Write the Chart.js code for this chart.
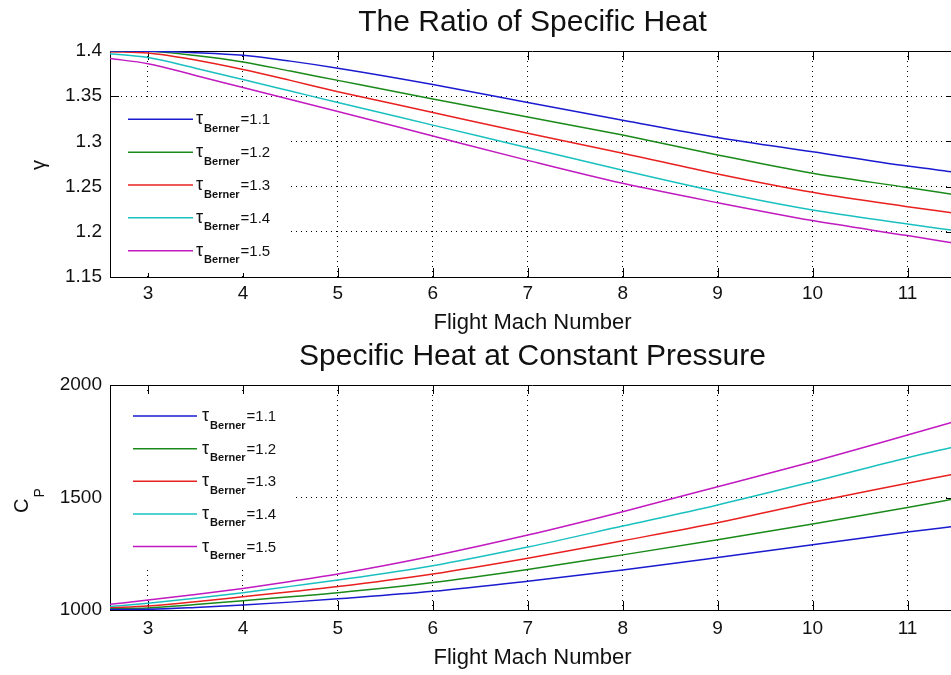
<!DOCTYPE html>
<html><head><meta charset="utf-8">
<script src="https://cdn.jsdelivr.net/npm/chart.js@4.4.1/dist/chart.umd.min.js"></script>
<style>
html,body{margin:0;padding:0;background:#fff;overflow:hidden;width:951px;height:675px;position:relative;}
#c1{position:absolute;left:0;top:0;}
#c2{position:absolute;left:0;top:337px;}
</style></head><body>
<canvas id="c1" width="960" height="337"></canvas>
<canvas id="c2" width="960" height="338"></canvas>
<script>
// ---- data ----
const mach = [2.6, 3, 3.5, 4, 4.5, 5, 6, 7, 8, 9, 10, 11, 11.5];
const tauLabels = ['1.1', '1.2', '1.3', '1.4', '1.5'];
const machTicks = [3, 4, 5, 6, 7, 8, 9, 10, 11];
const machTickLabels = ['3', '4', '5', '6', '7', '8', '9', '10', '11'];
const gammaTicks = [1.15, 1.2, 1.25, 1.3, 1.35, 1.4];
const gammaTickLabels = ['1.15', '1.2', '1.25', '1.3', '1.35', '1.4'];
const cpTicks = [1000, 1500, 2000];
const cpTickLabels = ['1000', '1500', '2000'];

const gamma11 = [1.3999, 1.3998, 1.3982, 1.3953, 1.3888, 1.381, 1.363, 1.343, 1.3235, 1.3044, 1.2885, 1.2727, 1.266];
const gamma12 = [1.3999, 1.3996, 1.3950, 1.3879, 1.3778, 1.3675, 1.347, 1.327, 1.307, 1.285, 1.2647, 1.249, 1.241];
const gamma13 = [1.3993, 1.3978, 1.3900, 1.3795, 1.3675, 1.355, 1.332, 1.309, 1.287, 1.264, 1.2437, 1.2278, 1.2205];
const gamma14 = [1.3970, 1.3927, 1.3810, 1.3684, 1.3557, 1.343, 1.318, 1.293, 1.268, 1.2444, 1.2242, 1.2087, 1.2013];
const gamma15 = [1.3916, 1.3860, 1.3730, 1.3596, 1.3463, 1.333, 1.306, 1.279, 1.2536, 1.2322, 1.2124, 1.1958, 1.1873];

const cp11 = [1002, 1003, 1011, 1022, 1035, 1050, 1083, 1128, 1178, 1233, 1290, 1347, 1372];
const cp12 = [1005, 1009, 1024, 1041, 1059, 1077, 1122, 1180, 1245, 1312, 1382, 1456, 1494];
const cp13 = [1010, 1018, 1037, 1059, 1081, 1104, 1160, 1230, 1308, 1388, 1479, 1563, 1605];
const cp14 = [1015, 1030, 1052, 1077, 1105, 1133, 1197, 1280, 1373, 1467, 1570, 1677, 1726];
const cp15 = [1025, 1044, 1069, 1096, 1127, 1160, 1240, 1333, 1437, 1548, 1659, 1778, 1838];

const colors = ['#1a1ad0', '#1a8a1a', '#e8201f', '#1ac0c0', '#c01ac0'];
const FONT = '"Liberation Sans", Arial, Helvetica, sans-serif';

function makeDatasets(series) {
  return series.map((arr, i) => ({
    label: 'τ=' + tauLabels[i],
    data: mach.map((m, k) => ({ x: m, y: arr[k] })),
    borderColor: colors[i],
    borderWidth: 1.5,
    pointRadius: 0,
    fill: false,
    cubicInterpolationMode: 'monotone'
  }));
}

function matlabPlugin(cfg) {
  return {
    id: 'matlab' + cfg.id,
    beforeDatasetsDraw(chart) {
      const { ctx, chartArea: a, scales: { x, y } } = chart;
      ctx.save();
      ctx.strokeStyle = '#000';
      ctx.lineWidth = 1;
      ctx.beginPath();
      ctx.moveTo(a.left, Math.round(a.top) + 0.5); ctx.lineTo(a.right, Math.round(a.top) + 0.5);
      ctx.moveTo(Math.round(a.right) - 0.5, a.top); ctx.lineTo(Math.round(a.right) - 0.5, a.bottom);
      const tl = 9;
      cfg.xTicks.forEach(v => {
        const px = Math.round(x.getPixelForValue(v)) + 0.5;
        ctx.moveTo(px, a.bottom); ctx.lineTo(px, a.bottom - tl);
        ctx.moveTo(px, a.top); ctx.lineTo(px, a.top + tl);
      });
      cfg.yTicks.forEach(v => {
        const py = Math.round(y.getPixelForValue(v)) + 0.5;
        ctx.moveTo(a.left, py); ctx.lineTo(a.left + tl, py);
        ctx.moveTo(a.right, py); ctx.lineTo(a.right - tl, py);
      });
      ctx.stroke();
      // opaque legend box (no border)
      ctx.fillStyle = '#fff';
      ctx.fillRect(a.left + 1, cfg.leg.top, cfg.leg.right - a.left - 1, cfg.leg.bottom - cfg.leg.top);
      ctx.restore();
    },
    afterDatasetsDraw(chart) {
      const { ctx } = chart;
      const L = cfg.leg;
      ctx.save();
      chart.data.datasets.forEach((ds, i) => {
        const ly = L.y0 + i * L.dy;
        ctx.strokeStyle = ds.borderColor;
        ctx.lineWidth = 1.5;
        ctx.beginPath();
        ctx.moveTo(L.x0, ly); ctx.lineTo(L.x1, ly);
        ctx.stroke();
        ctx.fillStyle = '#111';
        ctx.textBaseline = 'alphabetic';
        ctx.textAlign = 'left';
        ctx.font = '18px ' + FONT;
        ctx.fillText('τ', L.tx, ly + 5);
        const tw = ctx.measureText('τ').width;
        ctx.font = 'bold 11px ' + FONT;
        ctx.fillText('Berner', L.tx + tw + 1, ly + 12.5);
        const bw = ctx.measureText('Berner').width;
        ctx.font = '15px ' + FONT;
        ctx.fillText('=' + tauLabels[i], L.tx + tw + 1 + bw + 1, ly + 5);
      });
      ctx.restore();
    },
    afterDraw(chart) {
      const { ctx, chartArea: a } = chart;
      const cx = (a.left + a.right) / 2;
      ctx.save();
      ctx.fillStyle = '#111';
      ctx.textAlign = 'center';
      ctx.textBaseline = 'alphabetic';
      ctx.font = '30px ' + FONT;
      ctx.fillText(cfg.title, cx, cfg.titleY);
      ctx.font = '22px ' + FONT;
      ctx.fillText('Flight Mach Number', cx, cfg.xLabelY);
      cfg.drawYLabel(ctx);
      ctx.restore();
    }
  };
}

function makeChart(canvasId, series, cfg) {
  return new Chart(document.getElementById(canvasId), {
    type: 'line',
    data: { datasets: makeDatasets(series) },
    options: {
      responsive: false,
      animation: false,
      devicePixelRatio: 1,
      layout: { padding: { top: cfg.padTop, right: 5, left: 0, bottom: 0 } },
      plugins: { legend: { display: false }, tooltip: { enabled: false }, title: { display: false } },
      scales: {
        x: {
          type: 'linear', min: 2.6, max: 11.5,
          afterBuildTicks: s => { s.ticks = machTicks.map(v => ({ value: v })); },
          afterFit: s => { s.height = cfg.xAxisH; },
          ticks: {
            includeBounds: false, autoSkip: false, maxRotation: 0, minRotation: 0,
            padding: cfg.xTickPad, color: '#111',
            font: { family: FONT, size: 19 },
            callback: (v, i) => machTickLabels[i]
          },
          grid: { color: '#000', lineWidth: 1, drawTicks: false },
          border: { display: true, color: '#000', width: 1, dash: [1, 4] }
        },
        y: {
          type: 'linear', min: cfg.yMin, max: cfg.yMax,
          afterBuildTicks: s => { s.ticks = cfg.yTicks.map(v => ({ value: v })); },
          afterFit: s => { s.width = 110; },
          ticks: {
            includeBounds: false, autoSkip: false, padding: 8, color: '#111',
            font: { family: FONT, size: 19 },
            callback: (v, i) => cfg.yTickLabels[i]
          },
          grid: { color: '#000', lineWidth: 1, drawTicks: false },
          border: { display: true, color: '#000', width: 1, dash: [1, 4] }
        }
      }
    },
    plugins: [matlabPlugin(cfg)]
  });
}

makeChart('c1', [gamma11, gamma12, gamma13, gamma14, gamma15], {
  id: 1, padTop: 51, xAxisH: 60, xTickPad: 5,
  yMin: 1.15, yMax: 1.4, yTicks: gammaTicks, yTickLabels: gammaTickLabels,
  xTicks: machTicks,
  title: 'The Ratio of Specific Heat', titleY: 31, xLabelY: 329,
  leg: { top: 100, bottom: 273, right: 291, x0: 128, x1: 193, tx: 196, y0: 119.3, dy: 32.85 },
  drawYLabel(ctx) {
    ctx.translate(45, 165);
    ctx.rotate(-Math.PI / 2);
    ctx.textAlign = 'center';
    ctx.font = '20px ' + FONT;
    ctx.fillText('γ', 0, 0);
  }
});

makeChart('c2', [cp11, cp12, cp13, cp14, cp15], {
  id: 2, padTop: 48, xAxisH: 65, xTickPad: 7,
  yMin: 1000, yMax: 2000, yTicks: cpTicks, yTickLabels: cpTickLabels,
  xTicks: machTicks,
  title: 'Specific Heat at Constant Pressure', titleY: 28, xLabelY: 327,
  leg: { top: 58, bottom: 231, right: 296, x0: 133, x1: 197, tx: 202, y0: 79, dy: 32.65 },
  drawYLabel(ctx) {
    ctx.translate(28, 176);
    ctx.rotate(-Math.PI / 2);
    ctx.textAlign = 'left';
    ctx.font = '20px ' + FONT;
    ctx.fillText('C', 0, 0);
    const w = ctx.measureText('C').width;
    ctx.font = '14px ' + FONT;
    ctx.fillText('P', w + 1, 16);
  }
});
</script>
</body></html>
